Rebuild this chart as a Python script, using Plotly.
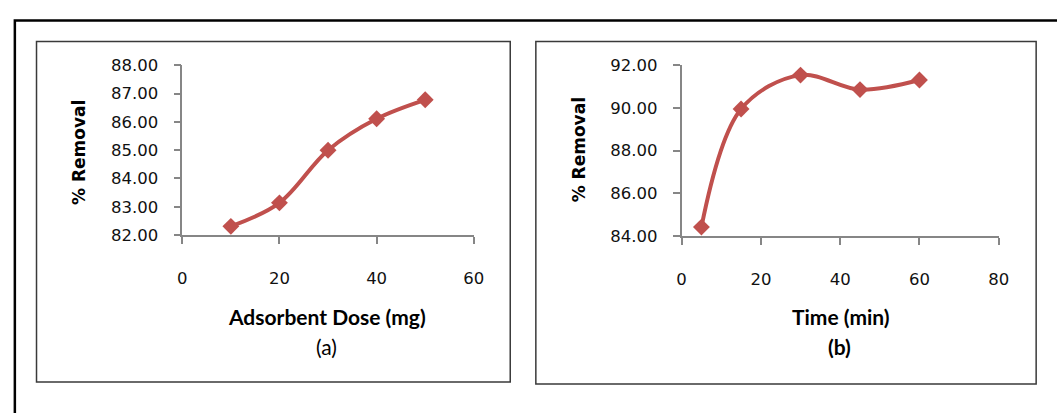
import plotly.graph_objects as go

# Panel (a): effect of adsorbent dose
dose_mg = [10, 20, 30, 40, 50]
removal_dose = [82.31, 83.14, 85.00, 86.11, 86.78]

# Panel (b): effect of contact time
time_min = [5, 15, 30, 45, 60]
removal_time = [84.42, 89.95, 91.54, 90.86, 91.31]

W, H = 1057, 413
LINE_COLOR = "#C0504D"
AXIS_COLOR = "#868686"
TEXT_COLOR = "#111111"
TICK_FONT = dict(family="DejaVu Sans", size=16.5, color=TEXT_COLOR)


def px_x(x):
    return x / W


def px_y(y):
    return 1 - y / H


fig = go.Figure()

for xs, ys, xa, ya in [(dose_mg, removal_dose, "x", "y"),
                       (time_min, removal_time, "x2", "y2")]:
    fig.add_trace(go.Scatter(
        x=xs, y=ys, xaxis=xa, yaxis=ya, mode="lines+markers",
        line=dict(color=LINE_COLOR, width=4, shape="spline", smoothing=1),
        marker=dict(symbol="diamond", size=13, color=LINE_COLOR),
        showlegend=False, cliponaxis=False,
    ))

common_axis = dict(
    showline=True, linecolor=AXIS_COLOR, linewidth=1.5,
    ticks="outside", ticklen=7, tickwidth=1.5, tickcolor=AXIS_COLOR,
    showgrid=False, zeroline=False, tickfont=TICK_FONT, fixedrange=True,
)

fig.update_layout(
    width=W, height=H,
    margin=dict(l=0, r=0, t=0, b=0),
    paper_bgcolor="white", plot_bgcolor="white",
    xaxis=dict(domain=[px_x(180), px_x(476)], range=[0, 60], dtick=20,
               tick0=0, anchor="y", ticklabelstandoff=20, **common_axis),
    yaxis=dict(domain=[px_y(237), px_y(59)], range=[82, 88], dtick=1,
               tick0=82, tickformat=".2f", anchor="x",
               ticklabelstandoff=12, **common_axis),
    xaxis2=dict(domain=[px_x(687), px_x(1009)], range=[0, 80], dtick=20,
                tick0=0, anchor="y2", ticklabelstandoff=20, **common_axis),
    yaxis2=dict(domain=[px_y(238), px_y(59)], range=[84, 92], dtick=2,
                tick0=84, tickformat=".2f", anchor="x2",
                ticklabelstandoff=12, **common_axis),
)

# Outer frame and the two panel borders
shapes = [
    dict(type="rect", xref="paper", yref="paper",
         x0=px_x(10), x1=px_x(1070), y0=px_y(430), y1=px_y(12),
         line=dict(color="black", width=2.5)),
    dict(type="rect", xref="paper", yref="paper",
         x0=px_x(32), x1=px_x(513), y0=px_y(391), y1=px_y(34),
         line=dict(color="#3a3a3a", width=1.5)),
    dict(type="rect", xref="paper", yref="paper",
         x0=px_x(539), x1=px_x(1047), y0=px_y(393), y1=px_y(34),
         line=dict(color="#3a3a3a", width=1.5)),
]
fig.update_layout(shapes=shapes)

title_font = dict(family="DejaVu Sans", size=17, color="black")
label_font = dict(family="Lato", size=21, color="black")

annotations = [
    dict(text="<b>% Removal</b>", x=px_x(75), y=px_y(150), textangle=-90,
         font=title_font),
    dict(text="<b>% Removal</b>", x=px_x(583), y=px_y(148), textangle=-90,
         font=title_font),
    dict(text="<b>Adsorbent Dose (mg)</b>", x=px_x(327), y=px_y(322),
         font=label_font),
    dict(text="(a)", x=px_x(326), y=px_y(354), font=label_font),
    dict(text="<b>Time (min)</b>", x=px_x(849), y=px_y(322), font=label_font),
    dict(text="<b>(b)</b>", x=px_x(847), y=px_y(354), font=label_font),
]
for a in annotations:
    a.update(xref="paper", yref="paper", showarrow=False,
             xanchor="center", yanchor="middle")
fig.update_layout(annotations=annotations)

fig.write_html("out.html")
